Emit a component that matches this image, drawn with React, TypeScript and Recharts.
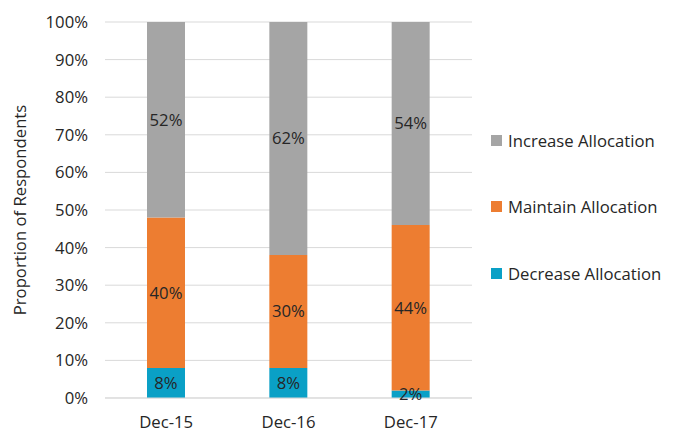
import React from 'react';
import { BarChart, Bar, XAxis, YAxis, CartesianGrid, Legend, LabelList } from 'recharts';

const categories = ['Dec-15', 'Dec-16', 'Dec-17'];
const decrease = [8, 8, 2];
const maintain = [40, 30, 44];
const increase = [52, 62, 54];
const yTicks = [0, 10, 20, 30, 40, 50, 60, 70, 80, 90, 100];

const series = [
  { key: 'decrease', name: 'Decrease Allocation', color: '#0aa0c6' },
  { key: 'maintain', name: 'Maintain Allocation', color: '#ed7d31' },
  { key: 'increase', name: 'Increase Allocation', color: '#a5a5a5' },
];

const data = categories.map((c, i) => ({
  name: c,
  decrease: decrease[i],
  maintain: maintain[i],
  increase: increase[i],
}));

const FONT = '"Open Sans", sans-serif';
const FS = 16.7;

const renderLegend = () => {
  const items = [...series].reverse();
  return (
    <div style={{ fontFamily: FONT, fontSize: FS, color: '#262626' }}>
      {items.map((s) => (
        <div key={s.key} style={{ display: 'flex', alignItems: 'center', height: 66.5 }}>
          <span style={{ display: 'inline-block', width: 11, height: 11, background: s.color, marginRight: 6 }} />
          <span>{s.name}</span>
        </div>
      ))}
    </div>
  );
};

export default function App() {
  return (
    <div style={{ position: 'fixed', left: 0, top: 0, width: 682, height: 432, background: '#fff' }}>
      <BarChart
        width={682}
        height={432}
        data={data}
        margin={{ top: 22, right: 210, bottom: 0, left: 0 }}
        barSize={38}
      >
        <CartesianGrid vertical={false} stroke="#d9d9d9" />
        <XAxis
          dataKey="name"
          tickLine={false}
          axisLine={{ stroke: '#d9d9d9' }}
          tick={{ fill: '#262626', fontSize: FS, fontFamily: FONT }}
          tickMargin={12}
          height={34}
        />
        <YAxis
          width={105}
          domain={[0, 100]}
          ticks={yTicks}
          tickFormatter={(v) => `${v}%`}
          tickLine={false}
          axisLine={false}
          tickSize={0}
          tickMargin={17}
          tick={{ fill: '#262626', fontSize: FS, fontFamily: FONT }}
          label={{
            value: 'Proportion of Respondents',
            angle: -90,
            position: 'insideLeft',
            offset: 20,
            style: { textAnchor: 'middle', fill: '#262626', fontSize: FS, fontFamily: FONT },
          }}
        />
        <Legend
          layout="horizontal"
          verticalAlign="middle"
          align="center"
          content={renderLegend}
          wrapperStyle={{ position: 'absolute', left: 491, top: 107, width: 190 }}
        />
        {series.map((s) => (
          <Bar key={s.key} dataKey={s.key} name={s.name} stackId="a" fill={s.color} isAnimationActive={false}>
            <LabelList
              dataKey={s.key}
              position="center"
              formatter={(v: number) => `${v}%`}
              style={{ fill: '#262626', fontSize: FS, fontFamily: FONT }}
            />
          </Bar>
        ))}
      </BarChart>
    </div>
  );
}
